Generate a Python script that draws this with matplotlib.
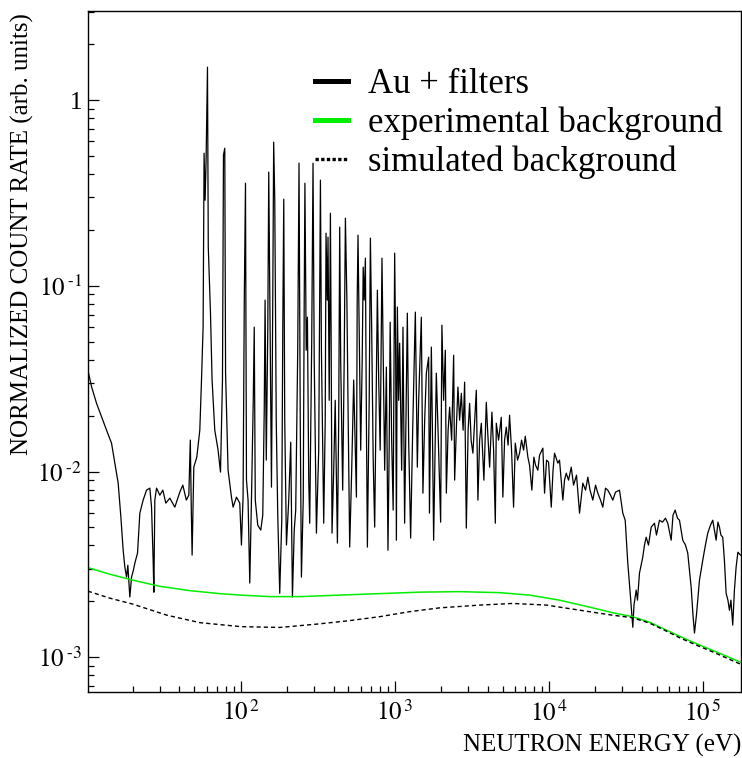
import matplotlib
matplotlib.use("Agg")
import matplotlib.pyplot as plt
from matplotlib.lines import Line2D
from matplotlib.ticker import FixedLocator, NullFormatter

plt.rcParams.update({
    "font.family": ["Liberation Serif", "DejaVu Serif"],
    "mathtext.fontset": "stix",
    "axes.linewidth": 1.0,
})

# Au + filters spectrum (eV, arb. units)
energy = [
    10.18, 10.76, 11.59, 12.49, 13.46, 14.50, 15.23, 16.01, 16.67, 17.25,
    17.69, 18.15, 18.50, 19.06, 19.55, 20.09, 20.54, 21.38, 22.13, 23.25,
    24.46, 25.70, 26.36, 27.00, 27.29, 27.69, 28.40, 29.83, 31.20, 32.63,
    34.64, 37.33, 40.22, 42.07, 44.33, 46.01, 47.05, 47.75, 48.33, 49.57,
    51.84, 54.22, 55.61, 56.96, 57.81, 58.69, 59.57, 60.81, 61.54, 63.60,
    65.14, 67.82, 71.25, 73.86, 76.08, 77.22, 78.74, 79.69, 82.72, 87.03,
    89.17, 93.78, 98.51, 101.0, 103.5, 105.4, 107.3, 108.9, 111.5, 114.4,
    117.3, 120.5, 122.3, 124.2, 128.9, 134.8, 138.9, 142.0, 143.8, 146.4,
    149.7, 151.9, 154.2, 158.2, 161.3, 163.5, 166.2, 169.9, 173.8, 179.0,
    184.5, 187.3, 190.1, 192.9, 197.9, 204.8, 211.0, 216.4, 222.3, 227.3,
    234.2, 238.8, 243.2, 247.5, 254.3, 258.1, 260.8, 265.9, 270.7, 276.1,
    280.2, 288.7, 294.4, 299.7, 309.7, 320.5, 328.8, 333.7, 345.4, 353.2,
    357.5, 363.9, 368.3, 374.9, 381.7, 386.3, 391.0, 401.0, 410.1, 423.8,
    432.1, 438.5, 445.1, 458.6, 469.0, 477.5, 488.3, 497.9, 509.2, 524.6,
    540.5, 562.9, 569.6, 576.5, 586.9, 600.2, 613.8, 623.0, 632.4, 643.8,
    653.5, 663.3, 681.4, 693.7, 707.3, 723.4, 739.7, 756.4, 770.1, 785.2,
    803.0, 824.8, 839.7, 858.7, 880.9, 902.1, 918.4, 932.2, 953.3, 975.0,
    997, 1012, 1023, 1038, 1058, 1074, 1107, 1129, 1157, 1184,
    1205, 1229, 1266, 1305, 1358, 1399, 1427, 1485, 1521, 1561,
    1601, 1657, 1677, 1725, 1759, 1785, 1858, 1923, 1982, 2020,
    2073, 2126, 2158, 2216, 2267, 2336, 2407, 2443, 2517, 2566,
    2632, 2700, 2773, 2836, 2909, 2988, 3056, 3125, 3210, 3377,
    3459, 3548, 3639, 3782, 3921, 3998, 4120, 4264, 4373, 4486,
    4553, 4710, 4904, 5023, 5152, 5285, 5429, 5552, 5719, 5893,
    6045, 6256, 6446, 6642, 6844, 7019, 7297, 7484, 7745, 7981,
    8186, 8472, 8690, 9129, 9363, 9647, 9940, 10350, 10630, 10870,
    11420, 11710, 12310, 12620, 12950, 13400, 13950, 14440, 15100, 15790,
    16590, 17280, 17880, 18470, 19260, 20060, 20760, 21610, 22360, 23280,
    24090, 25090, 25970, 27040, 28700, 30150, 31250, 32480, 33820, 35000,
    35630, 36820, 37540, 38680, 40630, 41680, 42760, 44250, 46070, 48390,
    49860, 52140, 54540, 57040, 59020, 62110, 63810, 65920, 68230, 70310,
    73840, 76880, 79560, 81620, 83730, 86020, 87970, 90630, 94770, 99560,
    103600, 107300, 111700, 115600, 118600, 121600, 124900, 127800, 130600, 134200,
    137600, 141200, 145000, 148400, 151700, 155800, 159800, 163900, 168400, 174800,
]
rate = [
    0.0352, 0.0286, 0.0233, 0.0197, 0.0167, 0.0142, 0.0111, 0.00866, 0.00569, 0.00377,
    0.00306, 0.00270, 0.00313, 0.00211, 0.00270, 0.00294, 0.00321, 0.00364, 0.00597, 0.00702,
    0.00794, 0.00814, 0.00643, 0.00333, 0.00224, 0.00702, 0.00814, 0.00746, 0.00794, 0.00676,
    0.00719, 0.00643, 0.00775, 0.00845, 0.00702, 0.00746, 0.01476, 0.00620, 0.00355, 0.01056,
    0.01196, 0.0167, 0.0311, 0.0599, 0.518, 0.289, 0.475, 1.505, 0.1616, 0.0713,
    0.0311, 0.0167, 0.01304, 0.00993, 0.0311, 0.506, 0.551, 0.0339, 0.01017, 0.00728,
    0.00643, 0.00728, 0.00676, 0.00402, 0.00728, 0.0838, 0.357, 0.00899, 0.00702, 0.00251,
    0.00702, 0.0242, 0.0599, 0.00702, 0.00514, 0.00484, 0.00582, 0.0214, 0.0838, 0.01152,
    0.0577, 0.410, 0.0948, 0.00824, 0.0838, 0.594, 0.289, 0.0189, 0.00582, 0.00221,
    0.00547, 0.0577, 0.293, 0.0189, 0.00402, 0.00702, 0.0144, 0.00211, 0.00484, 0.00620,
    0.0450, 0.458, 0.0189, 0.00270, 0.00702, 0.0838, 0.357, 0.0450, 0.0678, 0.00899,
    0.00527, 0.0510, 0.458, 0.0398, 0.00466, 0.01304, 0.371, 0.0450, 0.00527, 0.0189,
    0.192, 0.0838, 0.183, 0.0242, 0.246, 0.0450, 0.00466, 0.01017, 0.0242, 0.00412,
    0.0189, 0.207, 0.0398, 0.00794, 0.0398, 0.2315, 0.0838, 0.0189, 0.00392, 0.01017,
    0.0311, 0.00728, 0.0838, 0.1875, 0.0577, 0.01304, 0.0398, 0.126, 0.0838, 0.141,
    0.0189, 0.00392, 0.0242, 0.1807, 0.0577, 0.01152, 0.00502, 0.0242, 0.0948, 0.0311,
    0.01304, 0.141, 0.0450, 0.01017, 0.0365, 0.00377, 0.01304, 0.0637, 0.01476, 0.00620,
    0.150, 0.0450, 0.00427, 0.0768, 0.0242, 0.0491, 0.01017, 0.0599, 0.00527, 0.0242,
    0.0713, 0.01476, 0.00438, 0.0167, 0.0722, 0.01056, 0.0242, 0.0678, 0.00765, 0.0189,
    0.0339, 0.0413, 0.00597, 0.0468, 0.01304, 0.00427, 0.0339, 0.01304, 0.00534, 0.0614,
    0.0242, 0.0450, 0.00765, 0.0167, 0.0222, 0.01476, 0.0423, 0.00899, 0.0189, 0.0285,
    0.0189, 0.0264, 0.0167, 0.0303, 0.00496, 0.0167, 0.0233, 0.01476, 0.01256, 0.0274,
    0.00702, 0.01476, 0.0182, 0.00899, 0.0236, 0.0167, 0.01056, 0.0209, 0.01304, 0.00527,
    0.0182, 0.01476, 0.0196, 0.00728, 0.01476, 0.01734, 0.01387, 0.0201, 0.01304, 0.00643,
    0.01422, 0.01152, 0.01256, 0.01476, 0.01304, 0.0155, 0.01196, 0.01082, 0.00794, 0.01196,
    0.01082, 0.01017, 0.01225, 0.01337, 0.00765, 0.01152, 0.01124, 0.00643, 0.01017, 0.01256,
    0.01110, 0.01152, 0.00702, 0.00899, 0.00980, 0.00899, 0.01056, 0.00845, 0.00956, 0.00597,
    0.00866, 0.00794, 0.00933, 0.00794, 0.00702, 0.00845, 0.00765, 0.00702, 0.00643, 0.00814,
    0.00794, 0.00746, 0.00702, 0.00775, 0.00794, 0.00597, 0.00547, 0.00321, 0.00211, 0.00145,
    0.00191, 0.00230, 0.00203, 0.00284, 0.00346, 0.00402, 0.00443, 0.00402, 0.00502, 0.00527,
    0.00455, 0.00547, 0.00534, 0.00561, 0.00527, 0.00427, 0.00582, 0.00620, 0.00561, 0.00547,
    0.00427, 0.00402, 0.00364, 0.00294, 0.00238, 0.00169, 0.00135, 0.00169, 0.00260, 0.00333,
    0.00402, 0.00466, 0.00514, 0.00547, 0.00484, 0.00427, 0.00534, 0.00502, 0.00455, 0.00443,
    0.00333, 0.00221, 0.00203, 0.00179, 0.00203, 0.00149, 0.00230, 0.00306, 0.00368, 0.00355,
]

# experimental background (green)
exp_bg_energy = [10.18, 14.14, 19.94, 29.83, 46.70, 73.08, 100, 154.2, 241.3, 438.5,
                 797, 1448, 2632, 4782, 7484, 11710, 18340, 25850, 34840, 44930,
                 56190, 70310, 90630, 118600, 174800]
exp_bg_rate = [0.00304, 0.00280, 0.00260, 0.00241, 0.002284, 0.002201, 0.002161, 0.002121,
               0.002121, 0.002161, 0.002201, 0.002242, 0.002256, 0.002228, 0.002161, 0.00203,
               0.001862, 0.001738, 0.001654, 0.001545, 0.001416, 0.001299, 0.001183,
               0.001079, 0.000941]

# simulated background (dotted)
sim_bg_energy = [10.18, 14.14, 19.94, 33.12, 54.22, 100, 179.0, 311.1, 509.2, 797,
                 1247, 1952, 3548, 5806, 9647, 15790, 25850, 34840, 44930, 56190,
                 70310, 90630, 118600, 174800]
sim_bg_rate = [0.002270, 0.002081, 0.001932, 0.001685, 0.001536, 0.001462, 0.001447,
               0.001508, 0.001575, 0.001654, 0.001760, 0.001845, 0.001909, 0.001949,
               0.001909, 0.001793, 0.001685, 0.001633, 0.001527, 0.001399, 0.001275,
               0.001162, 0.001059, 0.000918]

legend_labels = ["Au + filters", "experimental background", "simulated background"]
GREEN = "#00ee00"

fig = plt.figure(figsize=(7.42, 7.58), dpi=100)
ax = fig.add_axes([88 / 742, 66 / 758, 652.5 / 742, 681 / 758])

ax.plot(energy, rate, color="black", lw=0.9)
ax.plot(exp_bg_energy, exp_bg_rate, color=GREEN, lw=1.1)
ax.plot(sim_bg_energy, sim_bg_rate, color="black", lw=1.0, linestyle=(0, (3, 2.2)))

ax.set_xscale("log")
ax.set_yscale("log")
ax.set_xlim(10.2, 1.75e5)
ax.set_ylim(6.5e-4, 3.02)

ax.xaxis.set_major_locator(FixedLocator([1e2, 1e3, 1e4, 1e5]))
ax.set_xticklabels([r"$10^{\,2}$", r"$10^{\,3}$", r"$10^{\,4}$", r"$10^{\,5}$"])
ax.xaxis.set_minor_locator(FixedLocator([m * 10.0 ** d for d in range(1, 6) for m in range(2, 10)]))
ax.xaxis.set_minor_formatter(NullFormatter())
ax.yaxis.set_major_locator(FixedLocator([1e-3, 1e-2, 1e-1, 1]))
ax.set_yticklabels([r"$10^{\;\text{-}3}$", r"$10^{\;\text{-}2}$", r"$10^{\;\text{-}1}$", "1"])
ax.yaxis.set_minor_locator(FixedLocator([m * 10.0 ** d for d in range(-4, 1) for m in range(2, 10)]))
ax.yaxis.set_minor_formatter(NullFormatter())

ax.tick_params(which="both", direction="in", top=False, right=False, width=0.9)
ax.tick_params(which="major", length=8, labelsize=18, pad=4)
ax.tick_params(which="minor", length=4.5)
ax.tick_params(axis="x", which="major", pad=6)

handles = [Line2D([], [], color="black", lw=3.6),
           Line2D([], [], color=GREEN, lw=3.6),
           Line2D([], [], color="black", lw=2.4, linestyle=(0, (1, 0.7)))]
ax.legend(handles, legend_labels, loc="upper left", bbox_to_anchor=(0.3266, 0.936),
          frameon=False, fontsize=25, handlelength=0.95, handletextpad=0.58,
          labelspacing=0.155, borderaxespad=0)

fig.text(22 / 742, 1 - 13 / 758, "NORMALIZED COUNT RATE (arb. units)", rotation=90,
         ha="center", va="top", fontsize=18)
fig.text(741 / 742, 1 - 745 / 758, "NEUTRON ENERGY (eV)", ha="right", va="center",
         fontsize=18)

fig.savefig("out.png", dpi=100)
